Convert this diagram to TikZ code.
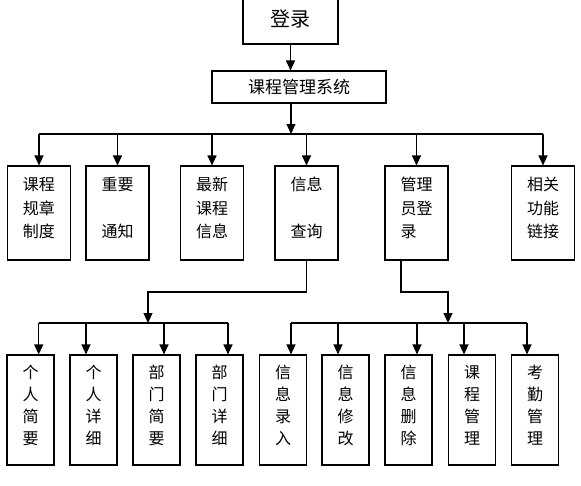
\documentclass[tikz,border=0pt]{standalone}
\usepackage{fontspec}
\setmainfont{Noto Sans CJK SC}
\usetikzlibrary{arrows.meta}

\begin{document}
\begin{tikzpicture}[
  x=1pt, y=-1pt,
  line width=1.1pt,
  box/.style={draw, inner sep=0pt, align=center},
  topbox/.style={box, minimum width=63pt, minimum height=94pt, text depth=11pt,
                 font=\fontsize{16}{23.5}\selectfont},
  leafbox/.style={box, minimum width=47pt, minimum height=110pt, text depth=11pt,
                  font=\fontsize{16}{22}\selectfont},
  arr/.style={-{Triangle[length=10pt,width=9pt]}},
]
\useasboundingbox (0,0) rectangle (581,485);

\node[box, minimum width=95pt, minimum height=46pt,
      font=\fontsize{20}{24}\selectfont] (login) at (290.5,21) {\raisebox{5pt}{登录}};
\node[box, minimum width=174pt, minimum height=32pt,
      font=\fontsize{17}{20}\selectfont] (sys) at (299,87) {课程管理系统};

\node[topbox] (rules)  at (39,213)    {课程\\规章\\制度};
\node[topbox] (notice) at (117.5,213) {重要\\~\\通知};
\node[topbox] (news)   at (212,213)   {最新\\课程\\信息};
\node[topbox] (query)  at (306.5,213) {信息\\~\\查询};
\node[topbox] (admin)  at (416.5,213) {管理\\员登\\录\hphantom{录}};
\node[topbox] (links)  at (543,213)   {相关\\功能\\链接};

\node[leafbox] (pbrief)  at (30.5,410)  {个\\人\\简\\要};
\node[leafbox] (pdetail) at (93.5,410)  {个\\人\\详\\细};
\node[leafbox] (dbrief)  at (156.5,410) {部\\门\\简\\要};
\node[leafbox] (ddetail) at (219.5,410) {部\\门\\详\\细};
\node[leafbox] (add)     at (283,410)   {信\\息\\录\\入};
\node[leafbox] (edit)    at (345.5,410) {信\\息\\修\\改};
\node[leafbox] (del)     at (408.5,410) {信\\息\\删\\除};
\node[leafbox] (course)  at (472,410)   {课\\程\\管\\理};
\node[leafbox] (attend)  at (535,410)   {考\\勤\\管\\理};

\draw[arr] (login.south) -- (login.south |- sys.north);

\coordinate (bus) at (291,134);
\draw[arr] (sys.south -| bus) -- (bus);
\draw (bus -| rules) -- (bus -| links);
\foreach \n in {rules,notice,news,query,admin,links}
  \draw[arr] (bus -| \n) -- (\n.north);

\coordinate (qm) at (148,292);
\coordinate (qb) at (148,323);
\draw[arr] (query.south) |- (qm) -- (qb);
\coordinate (am) at (448,292);
\coordinate (ab) at (448,323);
\draw[arr] ([xshift=-15.5pt]admin.south) |- (am) -- (ab);

\foreach \x/\n in {38.7/pbrief,86/pdetail,164/dbrief,228/ddetail,
                   291/add,338/edit,417/del,464/course,527/attend}{
  \coordinate (j\n) at (\x,323);
  \draw[arr] (j\n) -- (j\n |- \n.north);
}
\draw (jpbrief) -- (jddetail);
\draw (jadd) -- (jattend);
\end{tikzpicture}
\end{document}
